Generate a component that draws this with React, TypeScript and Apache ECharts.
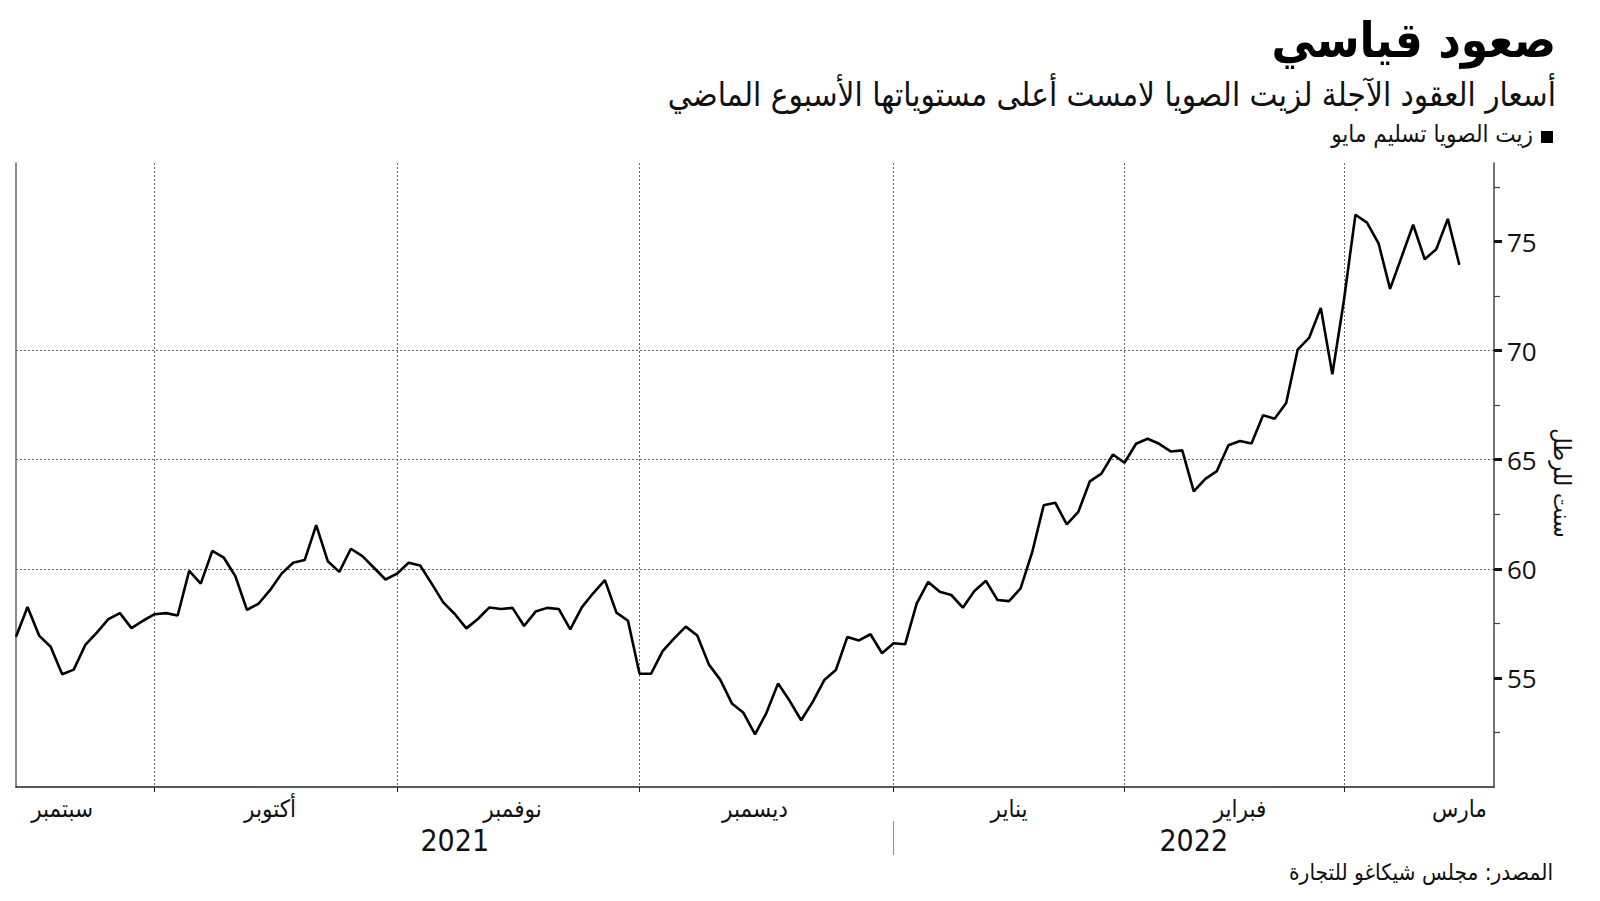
import React, { useEffect, useRef } from "react";
import * as echarts from "echarts";

// ---- data ----
const firstTradingDay = "2021-09-15";
const lastCategoryDay = "2022-03-18";
const marketHolidays = ["2021-11-25", "2021-12-24", "2022-01-17", "2022-02-21"];

// May soybean oil futures, cents per pound (one value per trading day)
const prices: (number | null)[] = [
  56.89, 58.25, 56.94, 56.43, 55.17, 55.38, 56.51, 57.08, 57.69, 57.97,
  57.28, 57.62, 57.92, 57.97, 57.86, 59.91, 59.32, 60.82, 60.51, 59.66,
  58.12, 58.40, 59.02, 59.78, 60.28, 60.40, 62.00, 60.35, 59.86, 60.92,
  60.58, 60.05, 59.51, 59.78, 60.28, 60.15, 59.32, 58.46, 57.93, 57.27,
  57.70, 58.23, 58.16, 58.21, 57.38, 58.04, 58.21, 58.16, 57.22, 58.23,
  58.89, 59.48, 57.99, 57.62, 55.19, 55.19, 56.23, 56.81, 57.35, 56.94,
  55.62, 54.91, 53.83, 53.40, 52.41, 53.41, 54.75, 53.95, 53.06, 53.90,
  54.90, 55.36, 56.88, 56.72, 57.00, 56.13, 56.59, 56.54, 58.40, 59.40,
  58.95, 58.80, 58.22, 58.98, 59.45, 58.57, 58.52, 59.10, 60.75, 62.91,
  63.03, 62.04, 62.61, 64.01, 64.36, 65.24, 64.86, 65.73, 65.96, 65.73,
  65.38, 65.43, 63.55, 64.12, 64.48, 65.66, 65.86, 65.74, 67.04, 66.88,
  67.60, 70.05, 70.60, 71.96, 68.92, 72.30, 76.23, 75.87, 74.92, 72.83,
  74.30, 75.77, 74.19, 74.65, 76.04, 73.93,
];

const monthNamesAr: Record<number, string> = {
  0: "يناير", 1: "فبراير", 2: "مارس", 8: "سبتمبر", 9: "أكتوبر", 10: "نوفمبر", 11: "ديسمبر",
};
const yearLabels = ["2021", "2022"];
const majorTicks = [55, 60, 65, 70, 75];
const minorTicks = [52.5, 57.5, 62.5, 67.5, 72.5, 77.5];

const titleText = "صعود قياسي";
const subtitleText = "أسعار العقود الآجلة لزيت الصويا لامست أعلى مستوياتها الأسبوع الماضي";
const legendText = "زيت الصويا تسليم مايو";
const unitText = "سنت للرطل";
const sourceText = "المصدر: مجلس شيكاغو للتجارة";

// ---- trading-day categories ----
function buildCategories(): string[] {
  const out: string[] = [];
  const [y0, m0, d0] = firstTradingDay.split("-").map(Number);
  const [y1, m1, d1] = lastCategoryDay.split("-").map(Number);
  let t = Date.UTC(y0, m0 - 1, d0);
  const end = Date.UTC(y1, m1 - 1, d1);
  while (t <= end) {
    const d = new Date(t);
    const wd = d.getUTCDay();
    const s = d.toISOString().slice(0, 10);
    if (wd !== 0 && wd !== 6 && marketHolidays.indexOf(s) < 0) out.push(s);
    t += 86400000;
  }
  return out;
}
const categories = buildCategories();
const seriesData = categories.map((_, i) => (i < prices.length ? prices[i] : null));

const monthOf = (s: string) => Number(s.slice(5, 7)) - 1;
const dayOf = (s: string) => Number(s.slice(8, 10));
const yearOf = (s: string) => s.slice(0, 4);

const boundarySet = new Set<number>();
categories.forEach((c, i) => {
  if (i > 0 && monthOf(c) !== monthOf(categories[i - 1])) boundarySet.add(i);
});
const labelSet = new Set<number>();
{
  const seen = new Set<string>();
  categories.forEach((c, i) => {
    if (i >= prices.length) return;
    const key = c.slice(0, 7);
    const minDay = seen.size === 0 ? 21 : 15;
    if (!seen.has(key) && dayOf(c) >= minDay) {
      seen.add(key);
      labelSet.add(i);
    }
  });
}

const AR_FONT = "'DejaVu Sans Condensed', 'DejaVu Sans', sans-serif";
const NUM_FONT = "'Open Sans', 'Noto Sans', sans-serif";
const YEAR_FONT = "'Liberation Sans Narrow', 'DejaVu Sans Condensed', sans-serif";

export default function App() {
  const ref = useRef<HTMLDivElement>(null);
  useEffect(() => {
    if (!ref.current) return;
    const chart = echarts.init(ref.current, undefined, { renderer: "svg" });
    const option: any = {
      animation: false,
      backgroundColor: "#ffffff",
      grid: { left: 16, top: 163, right: 106, bottom: 114 },
      xAxis: {
        type: "category",
        data: categories,
        boundaryGap: false,
        axisLine: { lineStyle: { color: "#222", width: 1.5 } },
        axisTick: {
          show: true,
          interval: (i: number) => boundarySet.has(i),
          length: 5,
          lineStyle: { color: "#222", width: 1 },
        },
        axisLabel: {
          interval: (i: number) => labelSet.has(i),
          formatter: (v: string) => monthNamesAr[monthOf(v)],
          fontFamily: AR_FONT,
          fontSize: 24,
          color: "#111",
          margin: 10,
        },
        splitLine: {
          show: true,
          interval: (i: number) => boundarySet.has(i),
          lineStyle: { color: "#666", width: 1, type: [2, 2] },
        },
      },
      yAxis: [
        {
          type: "value",
          position: "right",
          min: 50,
          max: 78.6,
          interval: 5,
          axisLine: { show: true, lineStyle: { color: "#444", width: 1.5 } },
          axisTick: {
            show: true,
            customValues: majorTicks,
            length: 8,
            lineStyle: { color: "#111", width: 3 },
          },
          axisLabel: {
            customValues: majorTicks,
            fontFamily: NUM_FONT,
            fontSize: 26,
            color: "#111",
            margin: 13,
          },
          splitLine: {
            show: true,
            showMinLine: false,
            showMaxLine: false,
            lineStyle: { color: "#666", width: 1, type: [2, 2] },
          },
          name: unitText,
          nameLocation: "middle",
          nameRotate: -90,
          nameGap: 56,
          nameTextStyle: { fontFamily: AR_FONT, fontSize: 23.5, color: "#111", padding: [0, 0, 0, 16] },
        },
        {
          type: "value",
          position: "right",
          min: 50,
          max: 78.6,
          interval: 5,
          axisLine: { show: false },
          axisTick: {
            show: true,
            customValues: minorTicks,
            length: 6,
            lineStyle: { color: "#444", width: 1.2 },
          },
          axisLabel: { show: false },
          splitLine: { show: false },
        },
        {
          type: "value",
          position: "left",
          min: 50,
          max: 78.6,
          interval: 5,
          axisLine: { show: true, lineStyle: { color: "#666", width: 1.5 } },
          axisTick: { show: false },
          axisLabel: { show: false },
          splitLine: { show: false },
        },
      ],
      series: [
        {
          type: "line",
          yAxisIndex: 0,
          data: seriesData,
          symbol: "none",
          lineStyle: { color: "#000", width: 2.6 },
          z: 5,
        },
      ],
      graphic: [
        {
          type: "text",
          right: 44,
          top: 16,
          style: { text: titleText, font: `bold 49px ${AR_FONT}`, fill: "#000" },
        },
        {
          type: "text",
          right: 44,
          top: 78,
          style: { text: subtitleText, font: `33px ${AR_FONT}`, fill: "#111" },
        },
        {
          type: "rect",
          shape: { x: 1541, y: 131, width: 12, height: 12 },
          style: { fill: "#000" },
        },
        {
          type: "text",
          right: 67,
          top: 122,
          style: { text: legendText, font: `24px ${AR_FONT}`, fill: "#111" },
        },
        {
          type: "text",
          right: 47,
          top: 860,
          style: { text: sourceText, font: `22.5px ${AR_FONT}`, fill: "#111" },
        },
      ],
    };
    chart.setOption(option);

    // year labels and divider, positioned from the axis scale
    const lastIdx = categories.length - 1;
    const janIdx = categories.findIndex((c) => yearOf(c) === "2022");
    const px = (i: number) => chart.convertToPixel({ xAxisIndex: 0 }, i) as number;
    const x0 = px(0);
    const xJan = px(janIdx);
    const xEnd = px(lastIdx);
    chart.setOption({
      graphic: [
        ...option.graphic,
        {
          type: "text",
          x: (x0 + xJan) / 2,
          y: 840,
          style: {
            text: yearLabels[0],
            font: `30px ${YEAR_FONT}`,
            fill: "#111",
            align: "center",
            verticalAlign: "middle",
          },
        },
        {
          type: "text",
          x: (xJan + xEnd) / 2,
          y: 840,
          style: {
            text: yearLabels[1],
            font: `30px ${YEAR_FONT}`,
            fill: "#111",
            align: "center",
            verticalAlign: "middle",
          },
        },
        {
          type: "line",
          shape: { x1: xJan, y1: 821, x2: xJan, y2: 855 },
          style: { stroke: "#888", lineWidth: 1 },
        },
      ],
    });

    return () => chart.dispose();
  }, []);
  return (
    <div
      ref={ref}
      style={{ position: "fixed", left: 0, top: 0, width: 1600, height: 901, background: "#fff" }}
    />
  );
}
